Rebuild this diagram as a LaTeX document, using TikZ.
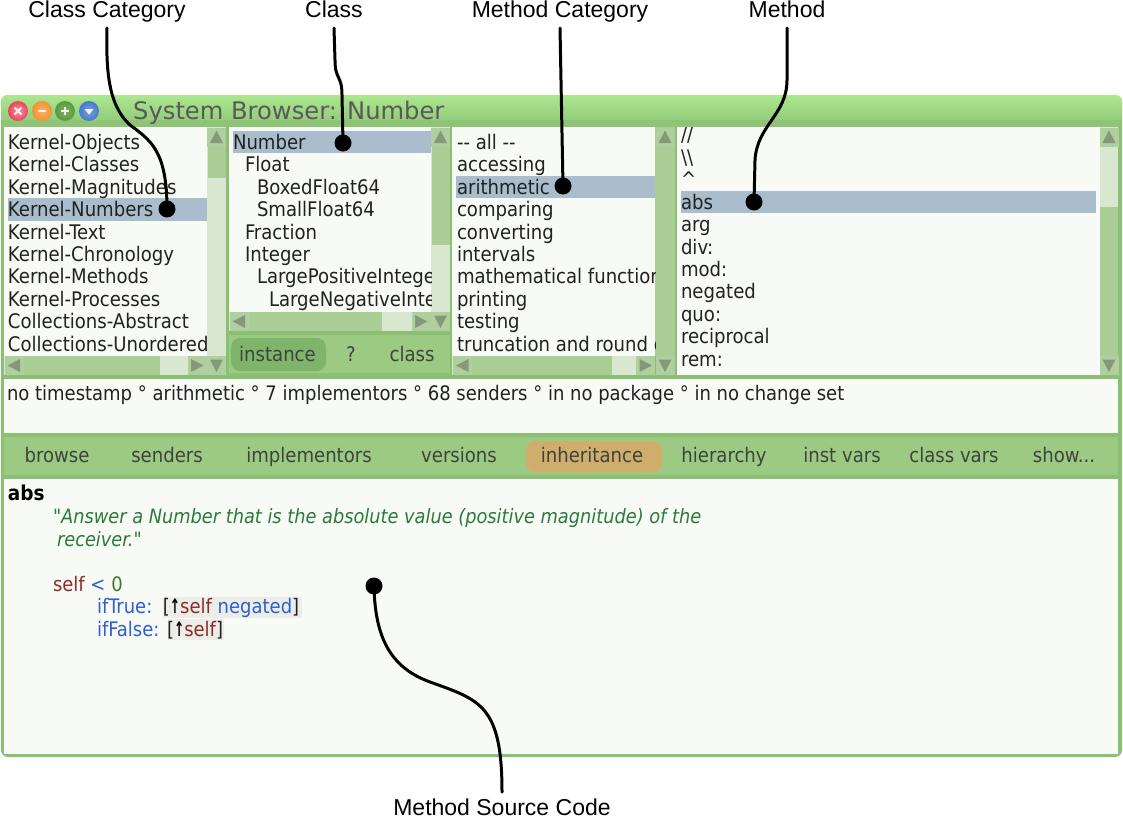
\documentclass[tikz,border=0pt]{standalone}
\usepackage{fontspec}
\setmainfont{Liberation Sans}
\newfontfamily\ui{DejaVu Sans Condensed}
\newfontfamily\titlefont{DejaVu Sans}
\definecolor{framec}{HTML}{8BBF74}
\definecolor{titletop}{HTML}{ABE88E}
\definecolor{titlebot}{HTML}{8FC477}
\definecolor{barc}{HTML}{9DCA83}
\definecolor{pillc}{HTML}{7FB56B}
\definecolor{inhc}{HTML}{CFAE6C}
\definecolor{panec}{HTML}{F7FAF5}
\definecolor{trackc}{HTML}{D8E8D0}
\definecolor{thumbc}{HTML}{A9CD95}
\definecolor{btnc}{HTML}{AFCF9E}
\definecolor{tric}{HTML}{84997A}
\definecolor{selc}{HTML}{A9BDCC}
\definecolor{txt}{HTML}{222222}
\definecolor{btxt}{HTML}{3E433E}
\definecolor{cmt}{HTML}{2B7A3C}
\definecolor{slf}{HTML}{8E2A2A}
\definecolor{msg}{HTML}{2F5FCF}
\definecolor{num}{HTML}{3E7A2A}
\definecolor{blk}{HTML}{ECEDE8}
\definecolor{wred}{HTML}{E8445A}
\definecolor{worange}{HTML}{F5922E}
\definecolor{wgreen}{HTML}{5A9A3A}
\definecolor{wblue}{HTML}{4678CC}
\tikzset{
  rowtext/.style={anchor=base west,inner sep=0pt,outer sep=0pt,text=txt,font=\ui\fontsize{20.1}{22}\selectfont},
  bartext/.style={anchor=base,inner sep=0pt,outer sep=0pt,text=btxt,font=\ui\fontsize{20.1}{22}\selectfont},
  codetext/.style={anchor=base west,inner sep=0pt,outer sep=0pt,font=\ui\fontsize{20}{22}\selectfont},
  calllabel/.style={anchor=base,inner sep=0pt,outer sep=0pt,text=black,font=\fontsize{23}{25}\selectfont,text height=16pt,text depth=1pt},
  calldot/.style={circle,fill=black,inner sep=0pt,minimum size=17pt},
  callout/.style={line width=3pt,black,line cap=round},
  winbtn/.style={circle,inner sep=0pt,minimum size=20pt}
}
\newcommand{\sbtn}[3]{%
  \fill[btnc] (#1-9.5,#2-9.5) rectangle (#1+9.5,#2+9.5);
  \fill[tric,shift={(#1,#2)},rotate=#3] (-6.5,6)--(6.5,6)--(0,-6.5)--cycle;
}
\newcommand{\upret}{\scalebox{0.68}[1]{\textcolor{black}{\textbf{↑}}}}
\begin{document}
\begin{tikzpicture}[x=1pt,y=-1pt]
\useasboundingbox (0,0) rectangle (1123,819);
\fill[white] (0,0) rectangle (1123,819);
% window
\fill[framec,rounded corners=7pt] (1,95) rectangle (1122,757);
\path[rounded corners=7pt,top color=titletop,bottom color=titlebot] (1,127) -- (1,95) -- (1122,95) -- (1122,127) -- cycle;
\fill[titlebot] (1,120) rectangle (1122,127);
% title
\node[winbtn,inner color=wred!55!white,outer color=wred] (bclose) at (18,111) {};
\node[winbtn,inner color=worange!70!white,outer color=worange] (bmin) at (42,111) {};
\node[winbtn,inner color=wgreen!75!white,outer color=wgreen] (bmax) at (65,111) {};
\node[winbtn,inner color=wblue!70!white,outer color=wblue] (bmenu) at (89,111) {};
\draw[white,line width=2pt,opacity=.85] (14.5,107.5) -- (21.5,114.5) (14.5,114.5) -- (21.5,107.5);
\draw[white,line width=2pt,opacity=.85] (38,111) -- (46,111);
\draw[white,line width=2pt,opacity=.85] (61,111) -- (69,111) (65,107) -- (65,115);
\fill[white,opacity=.9] (84.5,109) -- (93.5,109) -- (89,114.5) -- cycle;
\node[anchor=base west,inner sep=0pt,text=black!65,font=\titlefont\fontsize{24.2}{26}\selectfont] (wtitle) at (133,119) {System Browser: Number};
% pane 1
\fill[panec] (4,127) rectangle (207,356);
\fill[trackc] (207,127) rectangle (226,356);
\fill[thumbc] (208,147) rectangle (226,178);
\fill[trackc] (4,356) rectangle (207,375);
\fill[thumbc] (24,356) rectangle (160,375);
\sbtn{216.5}{137}{0}
\sbtn{14}{365.5}{90}
\sbtn{197}{365.5}{-90}
\sbtn{216.5}{365.5}{180}
\fill[selc] (8,198) rectangle (207,221);
\begin{scope}
\clip (4,127) rectangle (207,356);
\foreach \i/\t in {0/Kernel-Objects,1/Kernel-Classes,2/Kernel-Magnitudes,3/Kernel-Numbers,4/Kernel-Text,5/Kernel-Chronology,6/Kernel-Methods,7/Kernel-Processes,8/Collections-Abstract,9/Collections-Unordered}
  \node[rowtext] (cat\i) at (8,149.2+22.45*\i) {\t};
\end{scope}
% pane 2
\fill[panec] (229,127) rectangle (431,312);
\fill[trackc] (431,127) rectangle (450,312);
\fill[thumbc] (432,147) rectangle (450,245);
\fill[trackc] (229,312) rectangle (431,331);
\fill[thumbc] (248,312) rectangle (382,331);
\sbtn{440.5}{137}{0}
\sbtn{239}{321.5}{90}
\sbtn{421}{321.5}{-90}
\sbtn{440.5}{321.5}{180}
\fill[selc] (233,131) rectangle (431,153);
\begin{scope}
\clip (229,127) rectangle (431,312);
\foreach \i/\x/\t in {0/233/Number,1/245/Float,2/257/BoxedFloat64,3/257/SmallFloat64,4/245/Fraction,5/245/Integer,6/257/LargePositiveInteger,7/269/LargeNegativeInte}
  \node[rowtext] (cls\i) at (\x,149.2+22.45*\i) {\t};
\end{scope}
\fill[barc] (229,335) rectangle (450,373);
\fill[pillc,rounded corners=9pt] (231,338) rectangle (326,371);
\node[bartext] (binst) at (277.5,361.5) {instance};
\node[bartext] (bq) at (351,361.5) {?};
\node[bartext] (bclass) at (412,361.5) {class};
% pane 3
\fill[panec] (452,127) rectangle (655,356);
\fill[thumbc] (655,127) rectangle (675,356);
\fill[trackc] (452,356) rectangle (655,375);
\fill[thumbc] (472,356) rectangle (612,375);
\sbtn{665}{137}{0}
\sbtn{462.5}{365.5}{90}
\sbtn{645.5}{365.5}{-90}
\sbtn{665}{365.5}{180}
\fill[selc] (456,176) rectangle (655,198);
\begin{scope}
\clip (452,127) rectangle (655,356);
\foreach \i/\t in {0/-{}- all -{}-,1/accessing,2/arithmetic,3/comparing,4/converting,5/intervals,6/mathematical functions,7/printing,8/testing,9/truncation and round off}
  \node[rowtext] (mcat\i) at (457,149.2+22.45*\i) {\t};
\end{scope}
% pane 4
\fill[panec] (677,127) rectangle (1100,375);
\fill[trackc] (1100,127) rectangle (1118,207);
\fill[thumbc] (1100,207) rectangle (1118,356);
\sbtn{1109}{137}{0}
\sbtn{1109}{365.5}{180}
\fill[selc] (681,191) rectangle (1096,213);
\begin{scope}
\clip (677,127) rectangle (1099,375);
\foreach \i/\t in {0/{//},1/{\textbackslash\textbackslash},2/\^{},3/abs,4/arg,5/div:,6/mod:,7/negated,8/quo:,9/reciprocal,10/rem:}
  \node[rowtext] (mth\i) at (681,141.8+22.45*\i) {\t};
\end{scope}
% info pane
\fill[panec] (4,379) rectangle (1118,433);
\node[rowtext,font=\ui\fontsize{20}{22}\selectfont] (info) at (7,400) {no timestamp ° arithmetic ° 7 implementors ° 68 senders ° in no package ° in no change set};
% button bar
\fill[barc] (4,437) rectangle (1118,475);
\fill[inhc,rounded corners=9pt] (526,441) rectangle (662,472);
\foreach \n/\x/\t in {a/57/browse,b/167/senders,c/309/implementors,d/459/versions,e/592/inheritance,f/724/hierarchy,g/842/inst vars,h/954/class vars}
  \node[bartext] (bar\n) at (\x,462.5) {\t};
\node[bartext] (bari) at (1064,462.5) {show...};
% code pane
\fill[panec] (4,479) rectangle (1118,754);
\fill[blk] (163,597) rectangle (302,618);
\fill[blk] (168,619) rectangle (224,640);
\node[codetext,text=black,font=\ui\bfseries\fontsize{20.5}{22}\selectfont] (csel) at (8,500.5) {abs};
\node[codetext,text=cmt,font=\ui\itshape\fontsize{19.75}{22}\selectfont] (c1) at (53,523.5) {"Answer a Number that is the absolute value (positive magnitude) of the};
\node[codetext,text=cmt,font=\ui\itshape\fontsize{19.75}{22}\selectfont] (c2) at (57,546) {receiver."};
\node[codetext] (c3) at (53,591) {\textcolor{slf}{self} \textcolor{msg}{<} \textcolor{num}{0}};
\node[codetext] (c4) at (97,613.5) {\textcolor{msg}{ifTrue:}\hspace{3pt} \textcolor{txt}{[}\upret\textcolor{slf}{self} \textcolor{msg}{negated}\textcolor{txt}{]}};
\node[codetext] (c5) at (97,636) {\textcolor{msg}{ifFalse:} \textcolor{txt}{[}\upret\textcolor{slf}{self}\textcolor{txt}{]}};
% callouts
\node[calllabel] (lcc) at (107,17) {Class Category};
\node[calllabel] (lc) at (334,17) {Class};
\node[calllabel] (lmc) at (560,17) {Method Category};
\node[calllabel] (lm) at (787,17) {Method};
\node[calllabel] (lsrc) at (502,815.5) {Method Source Code};
\node[calldot] (dcc) at (167,209) {};
\node[calldot] (dc) at (343,143) {};
\node[calldot] (dmc) at (563,186) {};
\node[calldot] (dm) at (754,202) {};
\node[calldot] (dsrc) at (374,586) {};
\draw[callout] ([yshift=-10pt]lcc.south) .. controls (106,70) and (108,105) .. (130,125) .. controls (150,140) and (167,150) .. (dcc.center);
\draw[callout] ([yshift=-10pt]lc.south) -- (335,60) .. controls (335,80) and (342,75) .. (342,95) -- (dc.center);
\draw[callout] ([yshift=-10pt]lmc.south) -- (dmc.center);
\draw[callout] ([yshift=-10pt]lm.south) -- (787,80) .. controls (787,115) and (757,125) .. (755,160) -- (dm.center);
\draw[callout] (dsrc.center) .. controls (375,640) and (392,668) .. (430,682) .. controls (480,700) and (502,705) .. ([yshift=7.5pt]lsrc.north);
\end{tikzpicture}
\end{document}
